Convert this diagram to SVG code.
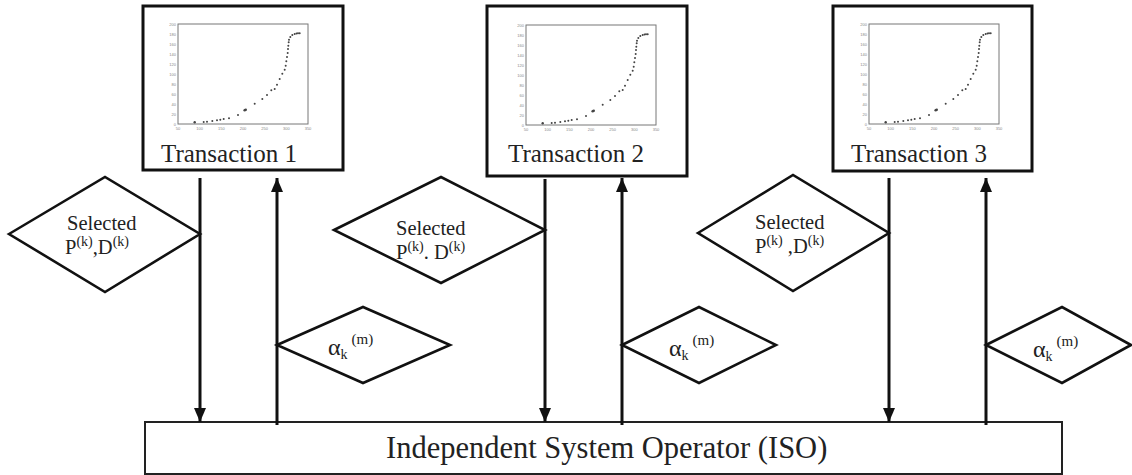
<svg xmlns="http://www.w3.org/2000/svg" width="1132" height="475" viewBox="0 0 1132 475">
<style>
  .box{fill:#fff;stroke:#111;stroke-width:3}
  .iso{fill:#fff;stroke:#222;stroke-width:2}
  .dia{fill:#fff;stroke:#111;stroke-width:2.6;stroke-linejoin:miter}
  .ln{stroke:#111;stroke-width:3;fill:none}
  .t{font-family:"Liberation Serif","Times New Roman",serif;fill:#222}
  .title{font-size:25px}
  .sel{font-size:20.5px}
  .sup{font-size:14px}
  .tick{font-family:"Liberation Sans",Arial,sans-serif;font-size:4px;fill:#888}
  .frame{fill:none;stroke:#777;stroke-width:1}
  .pt{fill:#444}
</style>
<defs>
  <marker id="ah" viewBox="0 0 14 12" refX="14" refY="6" markerWidth="14" markerHeight="12" markerUnits="userSpaceOnUse" orient="auto">
    <path d="M0,0 L14,6 L0,12 Z" fill="#111"/>
  </marker>
  <g id="plot">
    <rect class="frame" x="0" y="0" width="130" height="100"/>
    <g class="tick" text-anchor="middle">
      <text x="0" y="106">50</text><text x="21.7" y="106">100</text><text x="43.3" y="106">150</text><text x="65" y="106">200</text><text x="86.7" y="106">250</text><text x="108.3" y="106">300</text><text x="130" y="106">350</text>
    </g>
    <g class="tick" text-anchor="end">
      <text x="-2" y="101.5">0</text><text x="-2" y="91.5">20</text><text x="-2" y="81.5">40</text><text x="-2" y="71.5">60</text><text x="-2" y="61.5">80</text><text x="-2" y="51.5">100</text><text x="-2" y="41.5">120</text><text x="-2" y="31.5">140</text><text x="-2" y="21.5">160</text><text x="-2" y="11.5">180</text><text x="-2" y="1.5">200</text>
    </g>
    <g class="pt">
      <circle cx="16.7" cy="98.3" r="1.2"/><circle cx="25.7" cy="98" r="1"/><circle cx="29" cy="97.7" r="1"/><circle cx="34.3" cy="97" r="1"/><circle cx="39" cy="96.3" r="1"/><circle cx="42.3" cy="95.7" r="1"/><circle cx="45.7" cy="95" r="1"/><circle cx="51" cy="94.3" r="1"/><circle cx="60" cy="91" r="1"/><circle cx="66.7" cy="86.3" r="1.3"/><circle cx="67.7" cy="85.7" r="1.3"/><circle cx="76.7" cy="79.7" r="1"/><circle cx="84.3" cy="75" r="1"/><circle cx="89" cy="71" r="1"/><circle cx="93.3" cy="66.3" r="1"/><circle cx="96.7" cy="65" r="1"/><circle cx="99" cy="60.7" r="1"/><circle cx="101.7" cy="55" r="1"/><circle cx="104.3" cy="49.7" r="1"/><circle cx="106.7" cy="45.7" r="1"/><circle cx="107.7" cy="41.7" r="1"/><circle cx="108.3" cy="37.3" r="1"/><circle cx="109" cy="33" r="1"/><circle cx="109.7" cy="29" r="1"/><circle cx="110" cy="25" r="1"/><circle cx="110.3" cy="21.7" r="1"/><circle cx="110.7" cy="18.3" r="1"/><circle cx="111" cy="15.7" r="1"/><circle cx="112.3" cy="13" r="1"/><circle cx="114.3" cy="11" r="1"/><circle cx="116.7" cy="10" r="1"/><circle cx="118.5" cy="9.5" r="1"/><circle cx="120" cy="9.3" r="1"/><circle cx="121.7" cy="9.3" r="1"/>
    </g>
  </g>
</defs>

<g id="transaction1">
  <rect class="box" x="143" y="6" width="200" height="164"/>
  <use href="#plot" x="178" y="24"/>
  <text class="t title" x="161" y="162">Transaction 1</text>
</g>
<g id="transaction2">
  <rect class="box" x="487" y="6" width="200" height="170"/>
  <use href="#plot" x="526" y="25"/>
  <text class="t title" x="508" y="162">Transaction 2</text>
</g>
<g id="transaction3">
  <rect class="box" x="833" y="6" width="199" height="165"/>
  <use href="#plot" x="869" y="24"/>
  <text class="t title" x="851" y="162">Transaction 3</text>
</g>

<g id="iso">
  <rect class="iso" x="145" y="422" width="917" height="52"/>
  <text class="t" x="386" y="458" font-size="30.5">Independent System Operator (ISO)</text>
</g>

<g id="connectors">
  <line class="ln" x1="200" y1="178" x2="200" y2="422" marker-end="url(#ah)"/>
  <line class="ln" x1="277" y1="425" x2="277" y2="178" marker-end="url(#ah)"/>
  <line class="ln" x1="545" y1="179" x2="545" y2="422" marker-end="url(#ah)"/>
  <line class="ln" x1="622" y1="425" x2="622" y2="178" marker-end="url(#ah)"/>
  <line class="ln" x1="889" y1="178" x2="889" y2="422" marker-end="url(#ah)"/>
  <line class="ln" x1="986" y1="425" x2="986" y2="178" marker-end="url(#ah)"/>
</g>

<g id="selected1">
  <polygon class="dia" points="9,234 105,177 200,234 105,292"/>
  <text class="t sel" x="67" y="230">Selected</text>
  <text class="t sel" x="65" y="254">P<tspan class="sup" dy="-8">(k)</tspan><tspan dy="8">,D</tspan><tspan class="sup" dy="-8">(k)</tspan></text>
</g>
<g id="selected2">
  <polygon class="dia" points="334,230 441,177 545,230 441,283"/>
  <text class="t sel" x="396" y="235">Selected</text>
  <text class="t sel" x="396" y="259">P<tspan class="sup" dy="-8">(k)</tspan><tspan dy="8">. D</tspan><tspan class="sup" dy="-8">(k)</tspan></text>
</g>
<g id="selected3">
  <polygon class="dia" points="698,233 793,175 889,233 793,291"/>
  <text class="t sel" x="755" y="229">Selected</text>
  <text class="t sel" x="755" y="253">P<tspan class="sup" dy="-8">(k)</tspan><tspan dy="8"> ,D</tspan><tspan class="sup" dy="-8">(k)</tspan></text>
</g>

<g id="alpha1">
  <polygon class="dia" points="277,345 363,307 450,345 363,383"/>
  <text class="t" x="328" y="355" font-size="24">α<tspan font-size="14" dy="4">k</tspan><tspan font-size="15" dx="4" dy="-15">(m)</tspan></text>
</g>
<g id="alpha2">
  <polygon class="dia" points="622,345 699,307 776,345 699,383"/>
  <text class="t" x="669" y="356" font-size="24">α<tspan font-size="14" dy="4">k</tspan><tspan font-size="15" dx="4" dy="-15">(m)</tspan></text>
</g>
<g id="alpha3">
  <polygon class="dia" points="986,345 1062,307 1131,345 1062,383"/>
  <text class="t" x="1033" y="357" font-size="24">α<tspan font-size="14" dy="4">k</tspan><tspan font-size="15" dx="4" dy="-15">(m)</tspan></text>
</g>
</svg>
